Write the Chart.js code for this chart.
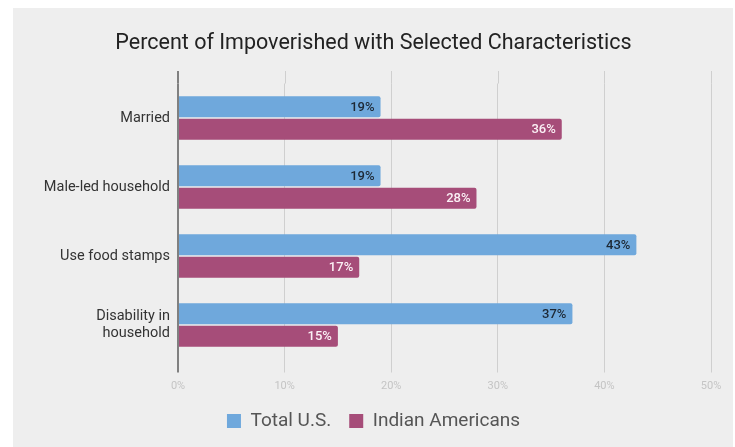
<!DOCTYPE html>
<html><head><meta charset="utf-8">
<script src="https://cdn.jsdelivr.net/npm/chart.js@4.4.1/dist/chart.umd.min.js"></script>
<style>html,body{margin:0;padding:0;background:#fff;} canvas{display:block;}</style>
</head><body>
<canvas id="c" width="735" height="447"></canvas>
<script>
const titleText = 'Percent of Impoverished with Selected Characteristics';
const categories = ['Married', 'Male-led household', 'Use food stamps', ['Disability in', 'household']];
const seriesNames = ['Total U.S.', 'Indian Americans'];
const totalUS = [19, 19, 43, 37];
const indianAmericans = [36, 28, 17, 15];
const xTicks = [0, 10, 20, 30, 40, 50];

const colors = ['#6fa8dc', '#a64d79'];
const labelColors = ['#1d2834', '#fbf0f5'];
const FONT = 'Roboto, "Noto Sans", sans-serif';

const panelPlugin = {
  id: 'panel',
  beforeDraw(chart) {
    const ctx = chart.ctx;
    ctx.save();
    ctx.fillStyle = '#eeeeee';
    ctx.fillRect(13, 8, 720, 439);
    ctx.restore();
  }
};

const gridExtendPlugin = {
  id: 'gridExtend',
  beforeDatasetsDraw(chart) {
    const ctx = chart.ctx;
    const xs = chart.scales.x;
    const top = chart.chartArea.top;
    ctx.save();
    xs.ticks.forEach(t => {
      const x = Math.round(xs.getPixelForValue(t.value));
      const zero = t.value === 0;
      ctx.strokeStyle = zero ? '#808080' : '#cfcfcf';
      ctx.lineWidth = zero ? 2 : 1;
      ctx.beginPath();
      const off = zero ? 0 : 0.5;
      ctx.moveTo(x + off, top - 12.5);
      ctx.lineTo(x + off, top);
      ctx.stroke();
    });
    ctx.restore();
  }
};

const valueLabelPlugin = {
  id: 'valueLabels',
  afterDatasetsDraw(chart) {
    const ctx = chart.ctx;
    chart.data.datasets.forEach((ds, i) => {
      const meta = chart.getDatasetMeta(i);
      meta.data.forEach((bar, j) => {
        ctx.save();
        ctx.font = '500 13px ' + FONT;
        ctx.fillStyle = labelColors[i];
        ctx.textAlign = 'right';
        ctx.textBaseline = 'middle';
        ctx.fillText(ds.data[j] + '%', bar.x - 6, bar.y + 0.5);
        ctx.restore();
      });
    });
  }
};

new Chart(document.getElementById('c'), {
  type: 'bar',
  data: {
    labels: categories,
    datasets: [
      { label: seriesNames[0], data: totalUS, backgroundColor: colors[0], borderWidth: 0, borderRadius: 2, borderSkipped: 'start' },
      { label: seriesNames[1], data: indianAmericans, backgroundColor: colors[1], borderWidth: 0, borderRadius: 2, borderSkipped: 'start' }
    ]
  },
  options: {
    indexAxis: 'y',
    responsive: false,
    animation: false,
    datasets: { bar: { categoryPercentage: 0.652, barPercentage: 0.933 } },
    layout: { padding: { top: 0, left: 36, right: 24, bottom: 6.5 } },
    scales: {
      x: {
        min: 0, max: 50,
        afterBuildTicks: s => { s.ticks = xTicks.map(v => ({ value: v })); },
        afterFit: s => { s.height = 34; },
        grid: {
          color: c => (c.tick && c.tick.value === 0) ? '#808080' : '#cfcfcf',
          lineWidth: c => (c.tick && c.tick.value === 0) ? 2 : 1,
          drawTicks: true,
          tickLength: 13
        },
        border: { display: false },
        ticks: {
          callback: v => v + '%',
          font: { family: FONT, size: 11 },
          color: '#c4c4c4',
          padding: 6.9,
          maxRotation: 0
        }
      },
      y: {
        afterFit: s => { s.width = 142; },
        grid: { display: false, drawTicks: false },
        border: { display: false },
        ticks: {
          font: { family: FONT, size: 14.5 },
          color: '#333333',
          padding: 8
        }
      }
    },
    plugins: {
      title: {
        display: true,
        text: titleText,
        color: '#222222',
        font: { family: FONT, size: 21.5, weight: 'normal' },
        padding: { top: 30.8, bottom: 26.9 }
      },
      tooltip: { enabled: false },
      legend: {
        position: 'bottom',
        align: 'center',
        labels: {
          font: { family: FONT, size: 19 },
          color: '#555555',
          boxWidth: 14,
          boxHeight: 14,
          padding: 18
        }
      }
    }
  },
  plugins: [panelPlugin, gridExtendPlugin, valueLabelPlugin]
});
</script>
</body></html>
